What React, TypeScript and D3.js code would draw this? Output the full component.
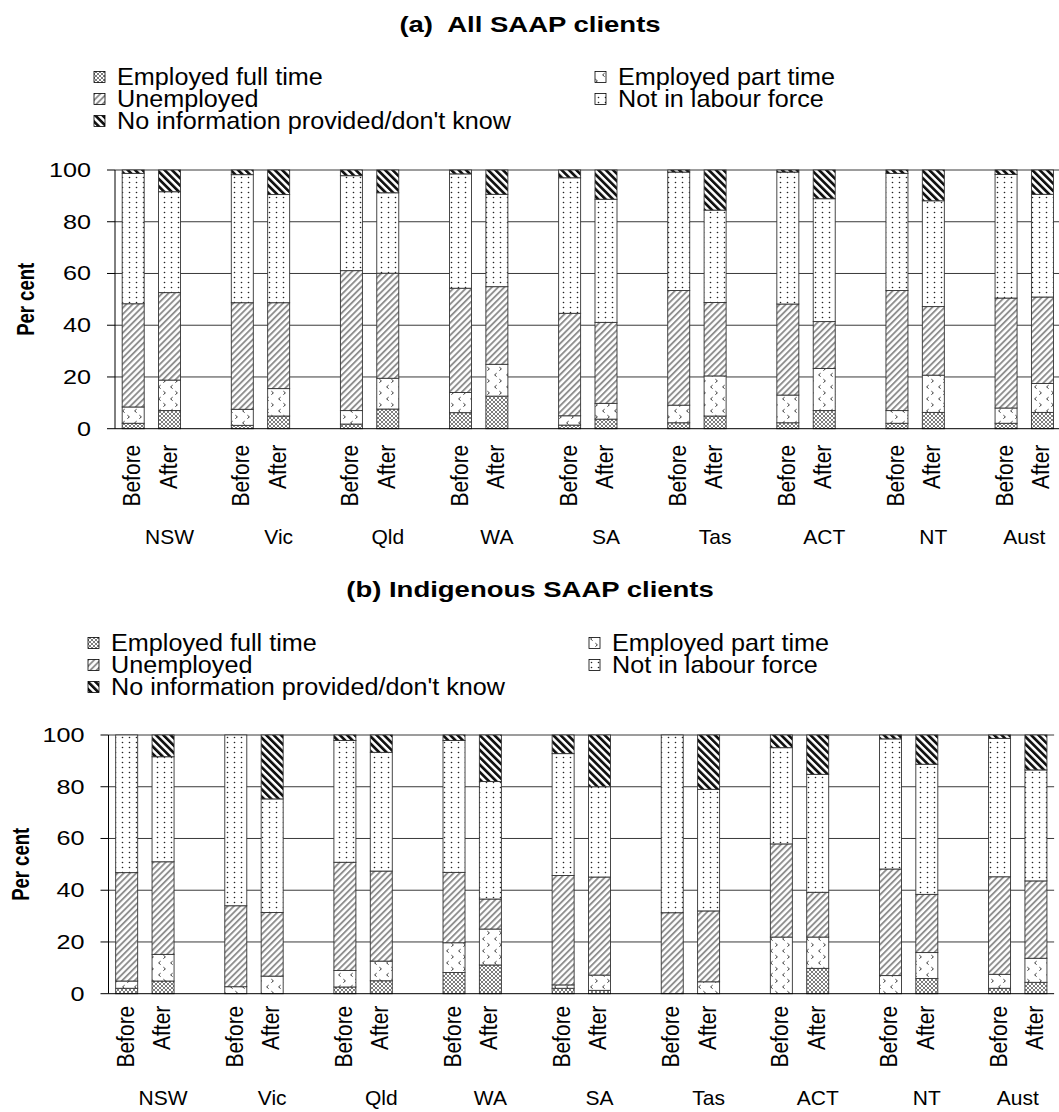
import React from "react";
import * as d3 from "d3";

// Categories
const STATES = ["NSW", "Vic", "Qld", "WA", "SA", "Tas", "ACT", "NT", "Aust"];
const PERIODS = ["Before", "After"];
const SERIES_KEYS = ["ft", "pt", "un", "nilf", "ni"];
const SERIES_LABELS = [
  "Employed full time",
  "Employed part time",
  "Unemployed",
  "Not in labour force",
  "No information provided/don't know",
];
const Y_TICKS = [0, 20, 40, 60, 80, 100];

// (a) All SAAP clients — per cent, order: NSW Before, NSW After, Vic Before, ...
const ftA = [2.1, 7.0, 1.3, 4.9, 1.8, 7.6, 6.2, 12.6, 1.4, 3.7, 2.3, 4.9, 2.3, 7.0, 2.1, 6.3, 2.1, 6.3];
const ptA = [6.3, 11.8, 6.2, 10.6, 5.2, 11.9, 7.8, 12.3, 3.6, 6.1, 6.8, 15.5, 10.7, 16.3, 4.9, 14.4, 5.9, 11.2];
const unA = [39.9, 33.8, 41.2, 33.2, 54.1, 40.6, 40.3, 30.0, 39.6, 31.3, 44.3, 28.4, 35.2, 18.1, 46.4, 26.5, 42.5, 33.4];
const nilfA = [50.4, 39.0, 49.5, 41.8, 36.7, 31.1, 44.2, 35.7, 52.4, 47.6, 45.8, 35.7, 51.0, 47.5, 45.3, 40.9, 47.8, 39.7];
const niA = [1.3, 8.4, 1.8, 9.5, 2.2, 8.8, 1.5, 9.4, 3.0, 11.3, 0.8, 15.5, 0.8, 11.1, 1.3, 11.9, 1.7, 9.4];

// (b) Indigenous SAAP clients
const ftB = [2.1, 4.9, 0, 0, 2.6, 5.0, 8.2, 11.1, 2.1, 1.3, 0, 0, 0, 9.8, 0, 5.9, 2.1, 4.4];
const ptB = [2.8, 10.3, 2.7, 6.8, 6.4, 7.6, 11.5, 13.9, 1.3, 5.9, 0, 4.6, 21.9, 12.1, 7.0, 10.0, 5.4, 9.3];
const unB = [41.9, 35.8, 31.3, 24.6, 41.8, 34.8, 27.2, 11.6, 42.3, 37.9, 31.3, 27.4, 36.0, 17.3, 41.2, 22.5, 37.7, 29.9];
const nilfB = [53.2, 40.6, 66.0, 43.9, 47.1, 45.9, 51.0, 45.4, 47.1, 34.9, 68.7, 47.0, 37.2, 45.6, 50.3, 50.3, 53.5, 42.9];
const niB = [0, 8.4, 0, 24.7, 2.1, 6.7, 2.1, 18.0, 7.2, 20.0, 0, 21.0, 4.9, 15.2, 1.5, 11.3, 1.3, 13.5];

const FONT = "'Liberation Sans', Arial, sans-serif";

function buildRows(ft, pt, un, nilf, ni) {
  const rows = [];
  STATES.forEach((s, i) => {
    PERIODS.forEach((p, j) => {
      const k = i * 2 + j;
      rows.push({ key: `${s}|${p}`, state: s, period: p, ft: ft[k], pt: pt[k], un: un[k], nilf: nilf[k], ni: ni[k] });
    });
  });
  return rows;
}

// category slots: Before, After and a spacer per state (no spacer after the last)
function slotDomain() {
  const d = [];
  STATES.forEach((s, i) => {
    d.push(`${s}|Before`, `${s}|After`);
    if (i < STATES.length - 1) d.push(`${s}|gap`);
  });
  return d;
}

function Txt({ x, y, sx = 1, rot = 0, children, ...rest }) {
  return (
    <text
      transform={`translate(${x},${y}) scale(${sx},1)${rot ? ` rotate(${rot})` : ""}`}
      fontFamily={FONT}
      fill="#000"
      style={{ whiteSpace: "pre" }}
      {...rest}
    >
      {children}
    </text>
  );
}

function Patterns({ id }) {
  return (
    <defs>
      <pattern id={`${id}-ft`} patternUnits="userSpaceOnUse" width="4" height="4">
        <rect width="4" height="4" fill="#fff" />
        <path d="M0,0 L4,4 M4,0 L0,4" stroke="#6e6e6e" strokeWidth="0.9" />
      </pattern>
      <pattern id={`${id}-pt`} patternUnits="userSpaceOnUse" width="12" height="12">
        <rect width="12" height="12" fill="#fff" />
        <path d="M4.6,1.2 L2.6,2.9 L4.6,4.6 M7.4,7.2 L9.4,8.9 L7.4,10.6" fill="none" stroke="#3a3a3a" strokeWidth="1" />
      </pattern>
      <pattern id={`${id}-un`} patternUnits="userSpaceOnUse" width="4.4" height="4.4" patternTransform="rotate(45)">
        <rect width="4.4" height="4.4" fill="#fff" />
        <rect width="1.9" height="4.4" fill="#8f8f8f" />
      </pattern>
      <pattern id={`${id}-nilf`} patternUnits="userSpaceOnUse" width="7" height="5">
        <rect width="7" height="5" fill="#fff" />
        <circle cx="3.5" cy="2.5" r="0.8" fill="#222" />
      </pattern>
      <pattern id={`${id}-ni`} patternUnits="userSpaceOnUse" width="5.2" height="5.2" patternTransform="rotate(-45)">
        <rect width="5.2" height="5.2" fill="#fff" />
        <rect width="2.7" height="5.2" fill="#111" />
      </pattern>
    </defs>
  );
}

function Panel({ id, title, titleY, legendX, legendY, rightX, x0, y0, y100, catOff, grpOff, perX, data }) {
  const rows = buildRows(...data);
  const step = 36.37;
  const domain = slotDomain();
  const x = d3
    .scaleBand()
    .domain(domain)
    .range([x0, x0 + domain.length * step])
    .paddingInner(0.395)
    .paddingOuter(0.395 / 2);
  const y = d3.scaleLinear().domain([0, 100]).range([y0, y100]);
  const stacked = d3.stack().keys(SERIES_KEYS)(rows);
  const xEnd = x0 + domain.length * step;
  const bw = x.bandwidth();

  const legendRows = [
    { k: "ft", label: SERIES_LABELS[0], col: 0, row: 0 },
    { k: "un", label: SERIES_LABELS[2], col: 0, row: 1 },
    { k: "ni", label: SERIES_LABELS[4], col: 0, row: 2 },
    { k: "pt", label: SERIES_LABELS[1], col: 1, row: 0 },
    { k: "nilf", label: SERIES_LABELS[3], col: 1, row: 1 },
  ];

  return (
    <g>
      <Patterns id={id} />
      <Txt x={530} y={titleY} sx={1.25} fontSize={22} fontWeight="bold" textAnchor="middle">
        {title}
      </Txt>
      {legendRows.map((l) => {
        const sxw = l.col === 0 ? legendX : rightX;
        const by = legendY + l.row * 22;
        return (
          <g key={l.k}>
            <rect x={sxw} y={by - 13.5} width={11} height={11} fill={`url(#${id}-${l.k})`} stroke="#000" strokeWidth={0.8} />
            <Txt x={sxw + 23} y={by} sx={1.05} fontSize={24}>
              {l.label}
            </Txt>
          </g>
        );
      })}

      {/* gridlines */}
      {Y_TICKS.filter((t) => t > 0).map((t) => (
        <line key={t} x1={x0} x2={xEnd} y1={y(t)} y2={y(t)} stroke="#3a3a3a" strokeWidth={1} />
      ))}

      {/* stacked bars */}
      {stacked.map((layer) => (
        <g key={layer.key}>
          {layer.map((d) => {
            const h = y(d[0]) - y(d[1]);
            if (h <= 0.01) return null;
            return (
              <rect
                key={d.data.key}
                x={x(d.data.key)}
                y={y(d[1])}
                width={bw}
                height={h}
                fill={`url(#${id}-${layer.key})`}
                stroke="#333"
                strokeWidth={0.9}
              />
            );
          })}
        </g>
      ))}

      {/* axes */}
      <line x1={x0} x2={x0} y1={y(0)} y2={y(100)} stroke="#000" strokeWidth={1} />
      <line x1={x0} x2={xEnd} y1={y(0)} y2={y(0)} stroke="#000" strokeWidth={1} />
      {Y_TICKS.map((t) => (
        <g key={t}>
          <line x1={x0 - 8} x2={x0} y1={y(t)} y2={y(t)} stroke="#000" strokeWidth={1} />
          <Txt x={x0 - 24} y={y(t) + 7} sx={1.2} fontSize={21} textAnchor="end">
            {t}
          </Txt>
        </g>
      ))}
      <Txt x={perX} y={(y0 + y100) / 2} sx={1.3} rot={-90} fontSize={18.5} fontWeight="bold" textAnchor="middle">
        Per cent
      </Txt>

      {/* category labels */}
      {rows.map((r) => (
        <Txt
          key={r.key}
          x={x(r.key) + bw / 2 + 7}
          y={y0 + catOff}
          sx={1.1}
          rot={-90}
          fontSize={21}
          textAnchor="end"
        >
          {r.period}
        </Txt>
      ))}
      {STATES.map((s, i) => {
        const a = x(`${s}|Before`) - (x.step() - bw) / 2;
        const last = i === STATES.length - 1;
        const b = last ? xEnd : x(`${s}|gap`) + bw + (x.step() - bw) / 2;
        return (
          <Txt key={s} x={(a + b) / 2} y={y0 + grpOff} fontSize={21} textAnchor="middle">
            {s}
          </Txt>
        );
      })}
    </g>
  );
}

export default function App() {
  return (
    <svg
      width={1059}
      height={1112}
      style={{ position: "absolute", left: 0, top: 0, background: "#fff" }}
    >
      <rect width={1059} height={1112} fill="#fff" />
      <Panel
        id="pa"
        title="(a)  All SAAP clients"
        titleY={32}
        legendX={94}
        legendY={85}
        rightX={595}
        x0={115}
        y0={428.7}
        y100={170}
        catOff={16}
        grpOff={115}
        perX={34}
        data={[ftA, ptA, unA, nilfA, niA]}
      />
      <Panel
        id="pb"
        title="(b) Indigenous SAAP clients"
        titleY={597}
        legendX={88}
        legendY={651}
        rightX={589}
        x0={108.5}
        y0={993.7}
        y100={735}
        catOff={12}
        grpOff={111}
        perX={29}
        data={[ftB, ptB, unB, nilfB, niB]}
      />
    </svg>
  );
}
